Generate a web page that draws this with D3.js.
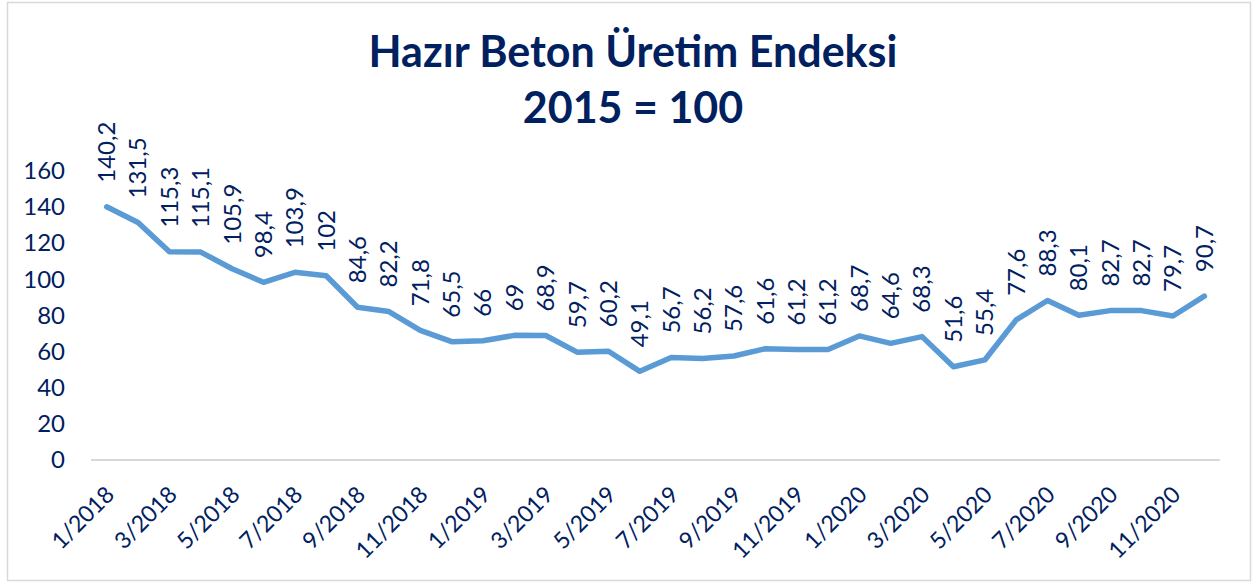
<!DOCTYPE html>
<html>
<head>
<meta charset="utf-8">
<script src="https://cdn.jsdelivr.net/npm/d3@7"></script>
<style>
  body { margin: 0; background: #fff; }
  svg { display: block; font-family: Lato, "Open Sans", sans-serif; }
</style>
</head>
<body>
<div class="chart"></div>
<script>
var months = ["1/2018","2/2018","3/2018","4/2018","5/2018","6/2018","7/2018","8/2018","9/2018","10/2018","11/2018","12/2018",
  "1/2019","2/2019","3/2019","4/2019","5/2019","6/2019","7/2019","8/2019","9/2019","10/2019","11/2019","12/2019",
  "1/2020","2/2020","3/2020","4/2020","5/2020","6/2020","7/2020","8/2020","9/2020","10/2020","11/2020","12/2020"];
var index = [140.2,131.5,115.3,115.1,105.9,98.4,103.9,102,84.6,82.2,71.8,65.5,
  66,69,68.9,59.7,60.2,49.1,56.7,56.2,57.6,61.6,61.2,61.2,
  68.7,64.6,68.3,51.6,55.4,77.6,88.3,80.1,82.7,82.7,79.7,90.7];
var yTicks = [0,20,40,60,80,100,120,140,160];
var titleLines = ["Hazır Beton Üretim Endeksi", "2015 = 100"];

var width = 1254, height = 584;
var navy = "#002060";
var lineColor = "#5B9BD5";

var svg = d3.select(".chart").append("svg")
    .attr("width", width)
    .attr("height", height);

// outer frame
svg.append("rect")
    .attr("x", 7.5).attr("y", 2.5)
    .attr("width", 1243).attr("height", 578)
    .attr("fill", "#fff")
    .attr("stroke", "#D9D9D9")
    .attr("stroke-width", 1.5);

var x = d3.scaleBand().domain(months).range([91, 1220]);
var y = d3.scaleLinear().domain([0, 160]).range([460, 171]);

// title
svg.selectAll(".title")
  .data(titleLines)
  .enter().append("text")
    .attr("class", "title")
    .attr("x", 633)
    .attr("y", function(d, i) { return 67 + i * 56; })
    .attr("text-anchor", "middle")
    .style("font-size", "43px")
    .style("font-weight", "bold")
    .style("fill", navy)
    .text(function(d) { return d; });

// y axis labels
var yAxis = svg.append("g")
    .attr("transform", "translate(91,0)")
    .call(d3.axisLeft(y).tickValues(yTicks).tickSize(0).tickPadding(26));
yAxis.select(".domain").remove();
yAxis.selectAll("text")
    .style("font-family", "Lato, sans-serif")
    .style("font-size", "24px")
    .style("fill", navy);

// baseline
svg.append("line")
    .attr("x1", 91).attr("x2", 1220)
    .attr("y1", y(0)).attr("y2", y(0))
    .attr("stroke", "#D9D9D9")
    .attr("stroke-width", 2);

// x axis labels, every other month
var xAxis = svg.append("g")
    .attr("transform", "translate(0," + y(0) + ")")
    .call(d3.axisBottom(x)
      .tickValues(months.filter(function(d, i) { return i % 2 === 0; }))
      .tickSize(0));
xAxis.select(".domain").remove();
xAxis.selectAll("text")
    .attr("text-anchor", "end")
    .attr("dy", null)
    .attr("y", 0)
    .attr("transform", "translate(9,36) rotate(-45)")
    .style("font-family", "Lato, sans-serif")
    .style("font-size", "23px")
    .style("fill", navy);

var cx = function(d, i) { return x(months[i]) + x.bandwidth() / 2; };

var line = d3.line()
    .x(cx)
    .y(function(d) { return y(d); });

svg.append("path")
    .datum(index)
    .attr("d", line)
    .attr("fill", "none")
    .attr("stroke", lineColor)
    .attr("stroke-width", 5.5)
    .attr("stroke-linejoin", "round")
    .attr("stroke-linecap", "round");

// data labels, rotated
svg.selectAll(".dlabel")
  .data(index)
  .enter().append("text")
    .attr("class", "dlabel")
    .attr("transform", function(d, i) {
      return "translate(" + cx(d, i) + "," + (y(d) - 24) + ") rotate(-90)";
    })
    .attr("dy", "0.35em")
    .attr("text-anchor", "start")
    .style("font-size", "24px")
    .style("fill", navy)
    .text(function(d) { return String(d).replace(".", ","); });
</script>
</body>
</html>
